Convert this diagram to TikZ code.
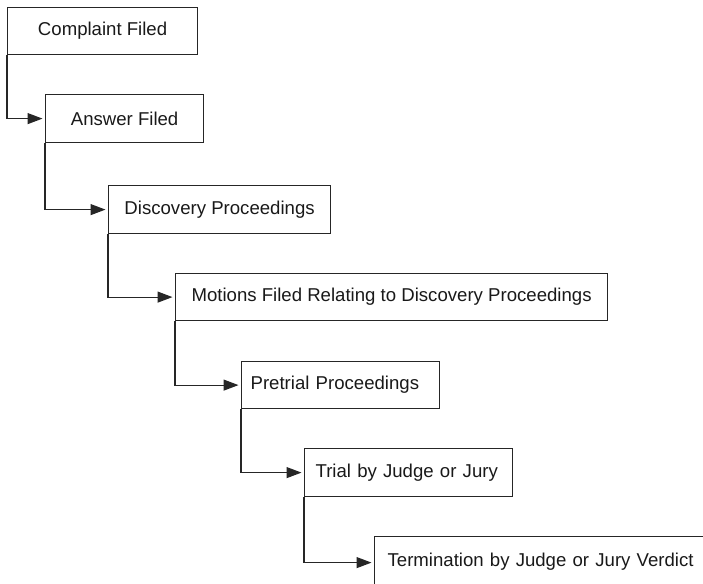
\documentclass[tikz,border=0pt]{standalone}
\usepackage{fontspec}
\setmainfont{Liberation Sans}
\usetikzlibrary{arrows.meta}
\begin{document}
\begin{tikzpicture}[x=1pt,y=-1pt,
  stagebox/.style={draw=black!85, line width=1.2pt, rectangle, anchor=north west,
    inner sep=0pt, text=black!90, font=\fontsize{18.6}{22}\selectfont},
  flow/.style={draw=black!85, line width=1.2pt, -{Triangle[length=15pt,width=11pt]}, shorten >=2.5pt}]
\useasboundingbox (0,0) rectangle (703,583);
\begin{scope}
\clip (0,0) rectangle (703,583);
\node[stagebox, minimum width=190pt, minimum height=47pt] (b1) at (7,7) {Complaint Filed};
\node[stagebox, minimum width=158pt, minimum height=48pt] (b2) at (45,94) {Answer Filed};
\node[stagebox, minimum width=222pt, minimum height=48pt] (b3) at (108,185) {Discovery Proceedings};
\node[stagebox, minimum width=432pt, minimum height=47pt] (b4) at (175,273) {Motions Filed Relating to Discovery Proceedings};
\node[stagebox, minimum height=47pt, inner xsep=9pt, text width=180pt, align=left] (b5) at (241,361) {Pretrial Proceedings};
\node[stagebox, minimum height=48pt, inner xsep=11pt, text width=186pt, align=left] (b6) at (304,448) {Trial by Judge or Jury};
\node[stagebox, minimum height=50pt, minimum width=500pt, inner xsep=13pt, text width=474pt, align=left] (b7) at (374,536) {Termination by Judge or Jury Verdict};
\draw[flow] (b1.south west) |- (b2.west);
\draw[flow] (b2.south west) |- (b3.west);
\draw[flow] (b3.south west) |- (b4.west);
\draw[flow] (b4.south west) |- (b5.west);
\draw[flow] (b5.south west) |- (b6.west);
\draw[flow] (b6.south west) |- ([yshift=-1pt]b7.west);
\end{scope}
\end{tikzpicture}
\end{document}
